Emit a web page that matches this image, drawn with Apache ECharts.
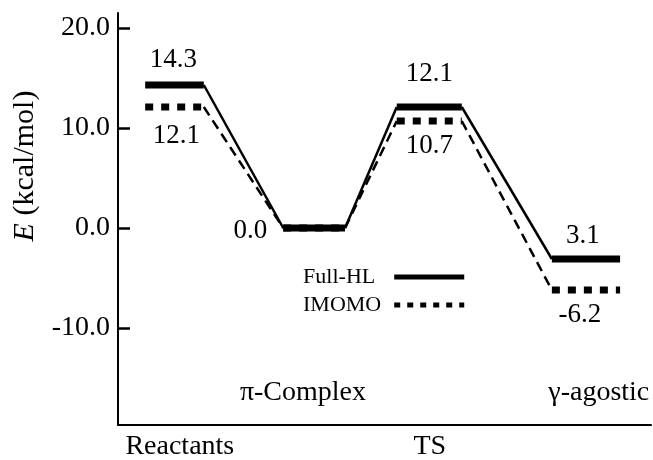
<!DOCTYPE html>
<html>
<head>
<meta charset="utf-8">
<script src="https://cdn.jsdelivr.net/npm/echarts@6/dist/echarts.min.js"></script>
<style>html,body{margin:0;padding:0;background:#fff}#c{width:653px;height:460px}</style>
</head>
<body>
<div id="c"></div>
<script>
// ---- data ----
const stages = ['Reactants', 'π-Complex', 'TS', 'γ-agostic'];
const fullHL = [14.3, 0.0, 12.1, -3.1];
const imomo = [12.1, 0.0, 10.7, -6.2];
const fullHLText = ['14.3', '0.0', '12.1', '3.1'];
const imomoText = ['12.1', '', '10.7', '-6.2'];
// reaction coordinate extents of each level (0-100)
const levelStart = [5.1, 31.0, 52.3, 81.4];
const levelEnd = [16.1, 42.6, 64.5, 94.2];
// stage label positions on the reaction coordinate
const stageLabelPos = [11.6, 34.7, 58.5, 90.2];
const yTicks = [-10, 0, 10, 20];

// ---- styling ----
const FONT = 'Liberation Serif';
const fullOffsets = [
  {dx: -1, dy: -25}, {start: true, dx: -16, dy: 3, align: 'right'},
  {dx: 0, dy: -33}, {dx: -3, dy: -23}
];
const imomoOffsets = [{dx: 2, dy: 29}, null, {dx: 0, dy: 25}, {dx: -6, dy: 25}];

function levelSeries(id, values, texts, offsets, dash) {
  return {
    type: 'custom', id: id, name: id,
    data: values.map((v, i) => [levelStart[i], levelEnd[i], v, i]),
    encode: {x: [0, 1], y: 2},
    clip: false, silent: true, z: 3,
    renderItem: function (params, api) {
      const i = api.value(3);
      const a = api.coord([api.value(0), api.value(2)]);
      const b = api.coord([api.value(1), api.value(2)]);
      const children = [{
        type: 'line',
        shape: {x1: a[0], y1: a[1], x2: b[0], y2: b[1]},
        style: {stroke: '#000', lineWidth: 7, lineDash: dash, lineCap: 'butt'}
      }];
      const t = texts[i];
      const o = offsets[i];
      if (t && o) {
        children.push({
          type: 'text',
          x: (o.start ? a[0] : (a[0] + b[0]) / 2) + o.dx,
          y: a[1] + o.dy,
          style: {text: t, fontFamily: FONT, fontSize: 27, fill: '#000',
                  align: o.align || 'center', verticalAlign: 'middle'}
        });
      }
      return {type: 'group', children: children};
    }
  };
}

function connectorSeries(name, values, type) {
  const out = [];
  for (let i = 0; i < values.length - 1; i++) {
    out.push({
      type: 'line', name: name,
      data: [[levelEnd[i], values[i]], [levelStart[i + 1], values[i + 1]]],
      symbol: 'none', showSymbol: false, silent: true, z: 2,
      lineStyle: {color: '#000', width: 2.5, type: type},
      itemStyle: {color: '#000'}
    });
  }
  return out;
}

const labelByPos = (v, idxs) => {
  for (const i of idxs) if (Math.abs(stageLabelPos[i] - v) < 0.01) return stages[i];
  return '';
};

const chart = echarts.init(document.getElementById('c'), null, {renderer: 'canvas'});
chart.setOption({
  animation: false,
  backgroundColor: '#fff',
  grid: {left: 118, right: 2, top: 13, bottom: 35, outerBoundsMode: 'none'},
  legend: {
    orient: 'vertical', left: 303, top: 266, align: 'right', padding: 0,
    itemWidth: 70, itemHeight: 14, itemGap: 6, selectedMode: false,
    itemStyle: {opacity: 0},
    textStyle: {fontFamily: FONT, fontSize: 22, color: '#000', lineHeight: 22},
    data: [
      {name: 'Full-HL', lineStyle: {width: 5, type: 'solid', color: '#000'}, textStyle: {padding: [0, 14, 0, 0]}},
      {name: 'IMOMO', lineStyle: {width: 5, type: [6, 7], color: '#000'}, textStyle: {padding: [0, 8, 0, 0]}}
    ]
  },
  xAxis: [{
    type: 'value', min: 0, max: 100, position: 'bottom',
    axisLine: {show: true, onZero: false, lineStyle: {color: '#000', width: 2}},
    axisTick: {show: false}, splitLine: {show: false},
    axisLabel: {customValues: [stageLabelPos[0], stageLabelPos[2]], margin: 8,
      fontFamily: FONT, fontSize: 28, color: '#000',
      formatter: v => labelByPos(v, [0, 2])}
  }, {
    type: 'value', min: 0, max: 100, position: 'bottom',
    axisLine: {show: false, onZero: false}, axisTick: {show: false}, splitLine: {show: false},
    axisLabel: {inside: true, customValues: [stageLabelPos[1], stageLabelPos[3]], margin: 18,
      fontFamily: FONT, fontSize: 28, color: '#000',
      formatter: v => labelByPos(v, [1, 3])}
  }],
  yAxis: {
    type: 'value', min: -19.7, max: 21.5,
    name: '{e|E} (kcal/mol)', nameLocation: 'middle', nameRotate: 90, nameGap: 78,
    nameTextStyle: {fontFamily: FONT, fontSize: 30, color: '#000', padding: [0, 0, 0, 106],
      rich: {e: {fontFamily: FONT, fontSize: 30, fontStyle: 'italic', color: '#000'}}},
    axisLine: {show: true, onZero: false, lineStyle: {color: '#000', width: 2}},
    axisTick: {show: true, inside: true, length: 12, customValues: yTicks,
      lineStyle: {color: '#000', width: 2.5}},
    splitLine: {show: false},
    axisLabel: {customValues: yTicks, margin: 8, fontFamily: FONT, fontSize: 28, color: '#000',
      formatter: v => v.toFixed(1)}
  },
  series: [].concat(
    connectorSeries('IMOMO', imomo, [10, 6]),
    connectorSeries('Full-HL', fullHL, 'solid'),
    [levelSeries('IMOMO levels', imomo, imomoText, imomoOffsets, [8, 8]),
     levelSeries('Full-HL levels', fullHL, fullHLText, fullOffsets, null)]
  )
});
</script>
</body>
</html>
